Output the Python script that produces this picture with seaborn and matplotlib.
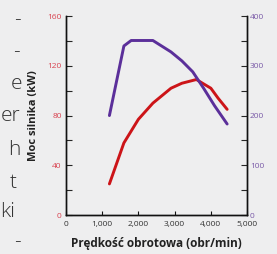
import matplotlib
matplotlib.use('Agg')
import matplotlib.pyplot as plt
import pandas as pd
import seaborn as sns

# Engine power (kW) and torque (Nm) vs engine speed (rpm)
power_rpm = [1200, 1600, 2000, 2400, 2900, 3200, 3600, 4000, 4200, 4450]
power_kw = [25, 58, 77, 90, 102, 106, 109, 102, 94, 85]
torque_rpm = [1200, 1600, 1800, 2400, 2900, 3200, 3500, 3800, 4100, 4450]
torque_nm = [200, 340, 351, 351, 328, 310, 288, 255, 220, 183]

x_ticks = [0, 1000, 2000, 3000, 4000, 5000]
x_labels = ['0', '1,000', '2,000', '3,000', '4,000', '5,000']
left_ticks = [0, 40, 80, 120, 160]
right_ticks = [0, 100, 200, 300, 400]

# visible fragments of the surrounding page text
side_lines = ['-', '-', 'e', 'er', 'h', 't', 'ki', '-']

bg = '#eeeeef'
red = '#cc1418'
purple = '#5b2f9a'
red_lbl = '#d8424f'
purple_lbl = '#7a5aa8'

sns.set_style('ticks')
plt.rcParams['font.family'] = ['Open Sans', 'DejaVu Sans']

fig = plt.figure(figsize=(2.77, 2.54), dpi=100, facecolor=bg)
ax = fig.add_axes([0.238, 0.1535, 0.654, 0.783])
ax.set_facecolor(bg)
ax2 = ax.twinx()

df_p = pd.DataFrame({'rpm': power_rpm, 'kw': power_kw})
df_t = pd.DataFrame({'rpm': torque_rpm, 'nm': torque_nm})
sns.lineplot(data=df_p, x='rpm', y='kw', ax=ax, color=red, lw=2.1)
sns.lineplot(data=df_t, x='rpm', y='nm', ax=ax2, color=purple, lw=2.1)

ax.set_xlim(0, 5000)
ax.set_ylim(0, 160)
ax2.set_ylim(0, 400)
ax.set_xticks(x_ticks)
ax.set_xticklabels(x_labels)
ax.set_yticks(left_ticks)
ax.set_yticks(range(20, 160, 40), minor=True)
ax2.set_yticks(right_ticks)
ax2.set_yticks(range(50, 400, 100), minor=True)

for a in (ax, ax2):
    a.spines['top'].set_visible(False)
    for s in a.spines.values():
        s.set_linewidth(1.0)
        s.set_color('#111111')
ax.tick_params(axis='x', direction='in', length=3, width=0.8, labelsize=6,
               colors='#111111', labelcolor='#333333', pad=4)
ax.tick_params(axis='y', which='both', direction='in', length=4, width=0.8,
               labelsize=6, labelcolor=red_lbl, pad=3)
ax2.tick_params(axis='y', which='both', direction='in', length=4, width=0.8,
                labelsize=6, labelcolor=purple_lbl, pad=2)

ax.set_xlabel('Prędkość obrotowa (obr/min)', fontsize=8.5, fontweight='bold',
              color='#222222', labelpad=7)
ax.set_ylabel('Moc silnika (kW)', fontsize=8, fontweight='bold',
              color='#222222', labelpad=6)
ax2.set_ylabel('')

# page text fragments at the left edge
ys = [20, 52, 84, 116, 150, 183, 212, 242]
xs = [21, 20, 22, 20, 21, 17, 15, 21]
for t, y, x in zip(side_lines, ys, xs):
    fig.text(x / 277, 1 - y / 254, t, ha='right', va='center', fontsize=15,
             color='#333333', fontweight='light')

fig.savefig('out.png', dpi=100, facecolor=bg)
